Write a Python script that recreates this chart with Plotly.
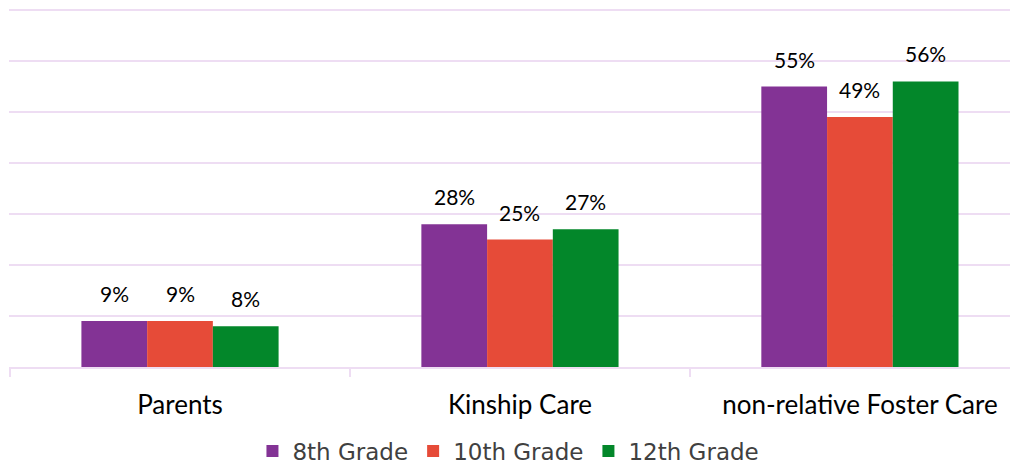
import plotly.graph_objects as go

categories = ["Parents", "Kinship Care", "non-relative Foster Care"]
series_names = ["8th Grade", "10th Grade", "12th Grade"]
grade8 = [9, 28, 55]
grade10 = [9, 25, 49]
grade12 = [8, 27, 56]
colors = ["#833395", "#E64B38", "#03872A"]

label_font = dict(family="Lato, Carlito, sans-serif", size=21, color="#000000")
bar_px = 340 * 0.58 / 3

fig = go.Figure()
annotations = []
for i, (name, vals, col) in enumerate(zip(series_names, [grade8, grade10, grade12], colors)):
    fig.add_trace(go.Bar(
        x=categories, y=vals, name=name,
        marker=dict(color=col, line=dict(width=0)),
    ))
    for c, v in zip(categories, vals):
        annotations.append(dict(
            x=c, y=v, xref="x", yref="y", text=f"{v}%", showarrow=False,
            xshift=(i - 1) * bar_px, yshift=13, yanchor="bottom", xanchor="center",
            font=label_font,
        ))

grid = "#EEDDF3"
fig.update_layout(
    width=1018, height=466,
    margin=dict(l=1, r=8, t=1, b=107),
    paper_bgcolor="white", plot_bgcolor="white",
    barmode="group", bargap=0.42, bargroupgap=0,
    showlegend=True,
    annotations=annotations,
    legend=dict(orientation="h", x=0.495, xanchor="center", y=-0.235, yanchor="middle",
                font=dict(family="DejaVu Sans, sans-serif", size=23, color="#404040"),
                itemwidth=30, tracegroupgap=0),
    xaxis=dict(range=[-0.503, 2.465], tickson="boundaries", ticks="outside", ticklen=8,
               tickcolor=grid, tickwidth=2, showline=True, linecolor=grid, linewidth=2,
               showgrid=False, ticklabelstandoff=14,
               tickfont=dict(family="Lato, Carlito, sans-serif", size=26, color="#000000")),
    yaxis=dict(range=[0, 70.2], dtick=10, showticklabels=False, showgrid=True,
               gridcolor=grid, gridwidth=2, zeroline=False, showline=False),
)
fig.write_html("out.html")
